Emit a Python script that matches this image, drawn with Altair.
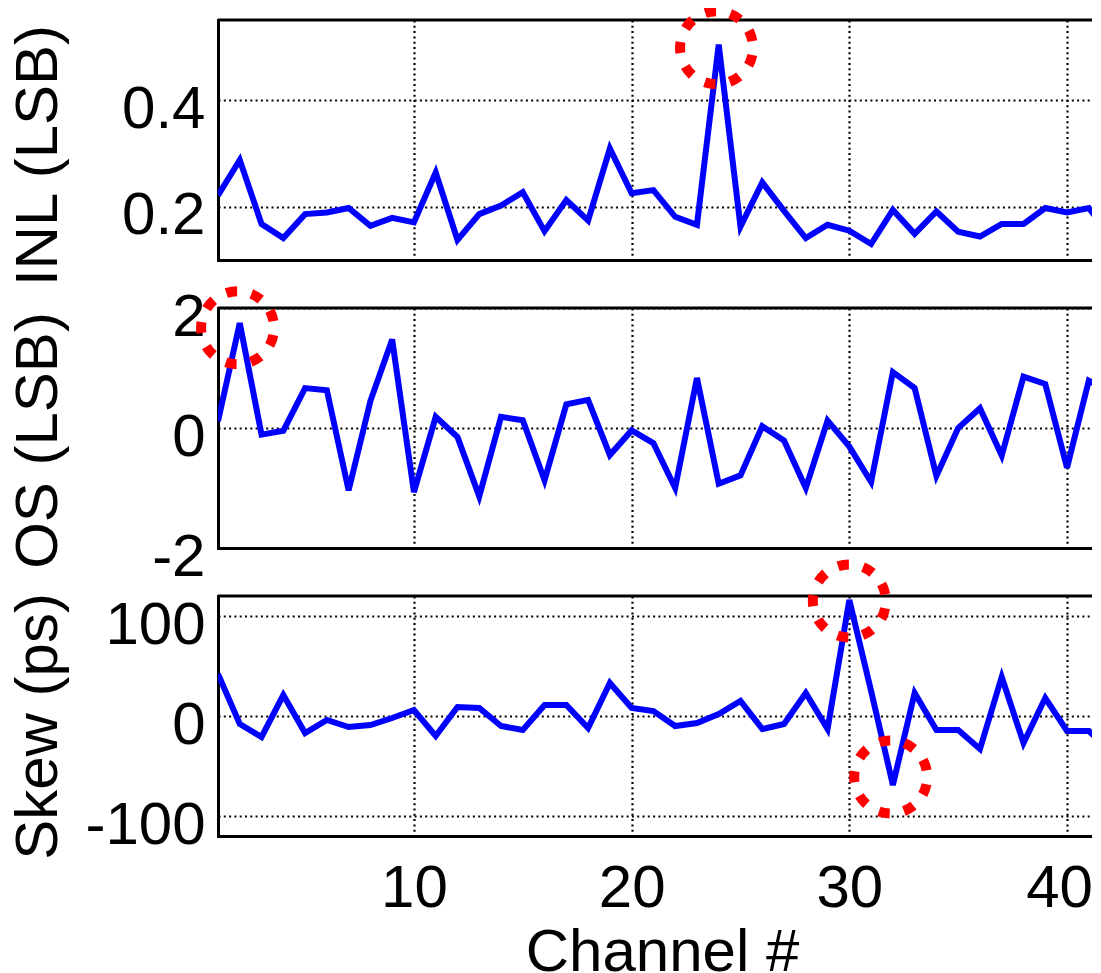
import altair as alt
import pandas as pd

# ---------------- data ----------------
channels = list(range(1, 43))

inl_lsb = [0.221, 0.2875, 0.1675, 0.141, 0.186, 0.189, 0.1975, 0.164, 0.179, 0.1705,
           0.264, 0.1375, 0.186, 0.202, 0.227, 0.154, 0.2125, 0.174, 0.309, 0.225,
           0.231, 0.181, 0.166, 0.504, 0.1625, 0.2455, 0.192, 0.141, 0.166, 0.155,
           0.13, 0.194, 0.149, 0.191, 0.153, 0.144, 0.1675, 0.1675, 0.1975, 0.189,
           0.1975, 0.145]

os_lsb = [0.113, 1.747, -0.11, -0.045, 0.665, 0.63, -1.04, 0.45, 1.475, -1.07,
          0.186, -0.15, -1.14, 0.186, 0.13, -0.87, 0.395, 0.468, -0.45, -0.04,
          -0.253, -1.0, 0.834, -0.93, -0.79, 0.03, -0.21, -1.0, 0.125, -0.31,
          -0.9, 0.93, 0.665, -0.8, 0.0, 0.33, -0.46, 0.856, 0.733, -0.664,
          0.79, 0.6]

skew_ps = [42, -8, -21, 21, -17, -4, -11, -9, -2, 6,
           -20, 9, 8, -10, -14, 11, 11, -12, 33, 8,
           5, -10, -7, 2, 15, -13, -8, 23, -13, 116,
           25, -69, 23, -14, -14, -33, 39, -27, 18, -15,
           -15, -35]

# highlighted outliers (dotted red circles)
inl_mark_ch = [23.9]
inl_mark_val = [0.498]
os_mark_ch = [1.9]
os_mark_val = [1.67]
skew_mark_ch = [30, 31.9]
skew_mark_val = [115, -61]

x_ticks = [10, 20, 30, 40]
inl_ticks = [0.2, 0.4]
os_ticks = [-2, 0, 2]
skew_ticks = [-100, 0, 100]

# ---------------- layout ----------------
X_MAX = 41.56
W = 883
H = 240
FONT = "Liberation Sans"


def panel(values, y_domain, y_ticks, y_title, title_y, mark_ch, mark_val, bottom):
    df = pd.DataFrame({"ch": channels, "v": values})
    mk = pd.DataFrame({"ch": mark_ch, "v": mark_val})
    if bottom:
        x_axis = alt.Axis(values=x_ticks, grid=True, ticks=False, tickSize=0,
                          labelPadding=70, labelBaseline="alphabetic", labelAlign="center",
                          labelFlush=False, labelOverlap=False, labelExpr="datum.value + ''",
                          labelOffset={"condition": {"test": "datum.value == 40", "value": -8},
                                       "value": 0},
                          title="Channel #", titleX=444, titleY=134,
                          titleBaseline="alphabetic", titleAlign="center")
    else:
        x_axis = alt.Axis(values=x_ticks, grid=True, ticks=False, tickSize=0,
                          labels=False, title=None)
    x = alt.X("ch:Q", scale=alt.Scale(domain=[1, X_MAX], nice=False, zero=False), axis=x_axis)
    y_axis = alt.Axis(values=y_ticks, grid=True, ticks=False, tickSize=0,
                      labelAlign="right", labelBaseline="alphabetic", labelPadding=13,
                      labelOffset=27, labelOverlap=False, labelExpr="datum.value + ''",
                      title=y_title, titleX=-162, titleY=title_y, titleAngle=270,
                      titleAlign="center", titleBaseline="alphabetic")
    y = alt.Y("v:Q", scale=alt.Scale(domain=y_domain, nice=False, zero=False), axis=y_axis)

    border = alt.Chart(pd.DataFrame({"b": [0]})).mark_rule(
        color="black", strokeWidth=3
    ).encode(x=alt.value(0), x2=alt.value(W), y=alt.value(0))
    line = alt.Chart(df).mark_line(color="#0000ff", strokeWidth=6, clip=True).encode(x=x, y=y)
    circles = alt.Chart(mk).mark_point(
        shape="circle", filled=False, size=5329, color="#ff0000", stroke="#ff0000",
        strokeWidth=10, strokeDash=[11, 14.5], strokeDashOffset=18.25,
        strokeJoin="round", opacity=1
    ).encode(x=alt.X("ch:Q"), y=alt.Y("v:Q"))
    return alt.layer(border, line, circles).properties(width=W, height=H)


p1 = panel(inl_lsb, [0.1, 0.55], inl_ticks, "INL (LSB)", 135, inl_mark_ch, inl_mark_val, False)
p2 = panel(os_lsb, [-2, 2], os_ticks, "OS (LSB)", 132, os_mark_ch, os_mark_val, False)
p3 = panel(skew_ps, [-120, 120], skew_ticks, "Skew (ps)", 130, skew_mark_ch, skew_mark_val, True)

chart = alt.vconcat(p1, p2, p3, spacing=48, bounds="flush").properties(
    padding={"top": -2, "left": 0, "right": -11, "bottom": 0}
).configure_view(stroke=None).configure_axis(
    domainColor="black", domainWidth=3, domainCap="square",
    gridColor="black", gridOpacity=1, gridWidth=2.2, gridDash=[2, 3.3],
    labelFont=FONT, labelFontSize=60, labelColor="black",
    titleFont=FONT, titleFontSize=60, titleFontWeight="normal", titleColor="black"
)

chart.save("out.html", embed_options={"renderer": "svg", "actions": False})
